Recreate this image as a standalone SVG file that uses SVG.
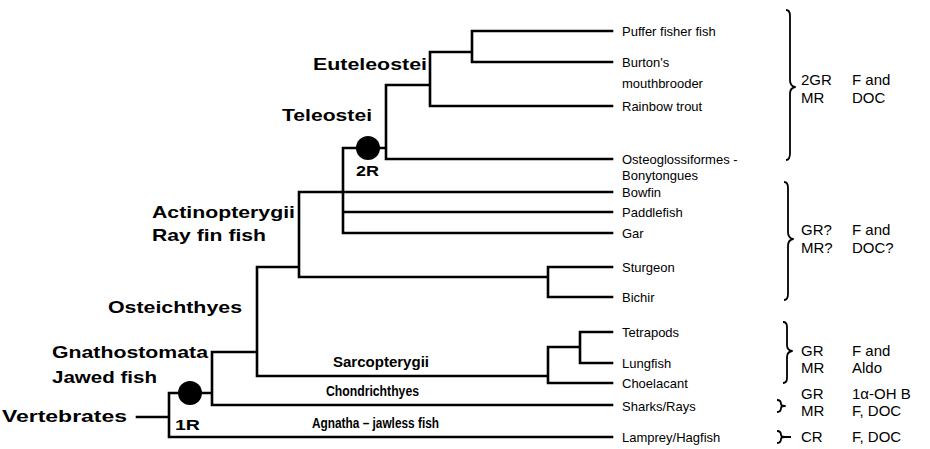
<svg xmlns="http://www.w3.org/2000/svg" width="930" height="449" viewBox="0 0 930 449">
<style>
.ln{fill:none;stroke:#000;stroke-width:2.6;stroke-linecap:square}
.br{fill:none;stroke:#000;stroke-width:1.8;stroke-linejoin:round}
.sp{font-family:"Liberation Sans",Arial,sans-serif;font-size:13px;fill:#000}
.cl{font-family:"Liberation Sans",Arial,sans-serif;font-size:17px;font-weight:bold;fill:#000}
.cs{font-family:"Liberation Sans",Arial,sans-serif;font-size:14px;font-weight:bold;fill:#000}
.cd{font-family:"Liberation Sans",Arial,sans-serif;font-size:15px;fill:#000}
.dot{fill:#000}
</style>
<rect width="930" height="449" fill="#fff"/>
<g id="connectors">
<path class="ln" d="M137,417 H169 M169,393 V437 H612 M169,393 H212 M212,352 V405 H612 M212,352 H257 M257,267 V376 H548 M257,267 H299 M299,192 V277 H548 M299,192 H612 M343,148 V233 H612 M343,212 H612 M343,148 H386 M386,85 V159 H612 M386,85 H430 M430,52 V106 H612 M430,52 H472 M472,31 V62 H612 M472,31 H612 M548,267 V297 H612 M548,267 H612 M548,347 V383 H612 M548,347 H580 M580,332 V363 H612 M580,332 H612"/>
</g>
<g id="node-1R"><circle class="dot" cx="190" cy="393" r="12"/><text class="cs" x="175" y="430" textLength="25" lengthAdjust="spacingAndGlyphs">1R</text></g>
<g id="node-2R"><circle class="dot" cx="368" cy="148" r="12"/><text class="cs" x="356" y="176" textLength="23" lengthAdjust="spacingAndGlyphs">2R</text></g>
<g id="clade-labels">
<text class="cl" x="2" y="422" textLength="125" lengthAdjust="spacingAndGlyphs">Vertebrates</text>
<text class="cl" x="52" y="358" textLength="156" lengthAdjust="spacingAndGlyphs">Gnathostomata</text>
<text class="cl" x="52" y="383" textLength="105" lengthAdjust="spacingAndGlyphs">Jawed fish</text>
<text class="cl" x="108" y="313" textLength="134" lengthAdjust="spacingAndGlyphs">Osteichthyes</text>
<text class="cl" x="152" y="218" textLength="143" lengthAdjust="spacingAndGlyphs">Actinopterygii</text>
<text class="cl" x="152" y="241" textLength="114" lengthAdjust="spacingAndGlyphs">Ray fin fish</text>
<text class="cl" x="282" y="121" textLength="90" lengthAdjust="spacingAndGlyphs">Teleostei</text>
<text class="cl" x="313" y="70" textLength="114" lengthAdjust="spacingAndGlyphs">Euteleostei</text>
<text class="cs" x="333" y="367" textLength="96" lengthAdjust="spacingAndGlyphs">Sarcopterygii</text>
<text class="cs" x="326" y="396" textLength="93" lengthAdjust="spacingAndGlyphs">Chondrichthyes</text>
<text class="cs" x="312" y="428" textLength="127" lengthAdjust="spacingAndGlyphs">Agnatha – jawless fish</text>
</g>
<g id="species">
<text class="sp" x="622" y="36">Puffer fisher fish</text>
<text class="sp" x="622" y="67">Burton's</text>
<text class="sp" x="622" y="88">mouthbrooder</text>
<text class="sp" x="622" y="111">Rainbow trout</text>
<text class="sp" x="622" y="164">Osteoglossiformes -</text>
<text class="sp" x="622" y="180">Bonytongues</text>
<text class="sp" x="622" y="197">Bowfin</text>
<text class="sp" x="622" y="217">Paddlefish</text>
<text class="sp" x="622" y="238">Gar</text>
<text class="sp" x="622" y="272">Sturgeon</text>
<text class="sp" x="622" y="302">Bichir</text>
<text class="sp" x="622" y="337">Tetrapods</text>
<text class="sp" x="622" y="368">Lungfish</text>
<text class="sp" x="622" y="388">Choelacant</text>
<text class="sp" x="622" y="411">Sharks/Rays</text>
<text class="sp" x="622" y="442">Lamprey/Hagfish</text>
</g>
<g id="group-teleost">
<path class="br" d="M786,10 Q790,10 790,16 V80 Q790,86 795,87 Q790,88 790,94 V153 Q790,160 786,160"/>
<text class="cd" x="801" y="85">2GR</text><text class="cd" x="801" y="103">MR</text>
<text class="cd" x="852" y="85">F and</text><text class="cd" x="852" y="103">DOC</text>
</g>
<g id="group-basal-actino">
<path class="br" d="M784,182 Q788,182 788,188 V232 Q788,238 793,239 Q788,240 788,246 V294 Q788,300 784,300"/>
<text class="cd" x="801" y="235">GR?</text><text class="cd" x="801" y="253">MR?</text>
<text class="cd" x="852" y="235">F and</text><text class="cd" x="852" y="253">DOC?</text>
</g>
<g id="group-sarco">
<path class="br" d="M783,322 Q787,322 787,327 V345 Q787,350 792,351 Q787,352 787,357 V378 Q787,383 783,383"/>
<text class="cd" x="801" y="356">GR</text><text class="cd" x="801" y="373">MR</text>
<text class="cd" x="852" y="356">F and</text><text class="cd" x="852" y="373">Aldo</text>
</g>
<g id="group-sharks">
<path class="br" d="M777,400 Q781,400 781,404 Q781,406 785,406 Q781,406 781,408 Q781,412 777,412"/>
<text class="cd" x="801" y="399">GR</text><text class="cd" x="801" y="416">MR</text>
<text class="cd" x="852" y="399">1α-OH B</text><text class="cd" x="852" y="416">F, DOC</text>
</g>
<g id="group-agnatha">
<path class="br" d="M777,431 Q781,431 781,435 Q781,437 785,437 H791 M785,437 Q781,437 781,439 Q781,443 777,443"/>
<text class="cd" x="801" y="442">CR</text>
<text class="cd" x="852" y="442">F, DOC</text>
</g>
</svg>
